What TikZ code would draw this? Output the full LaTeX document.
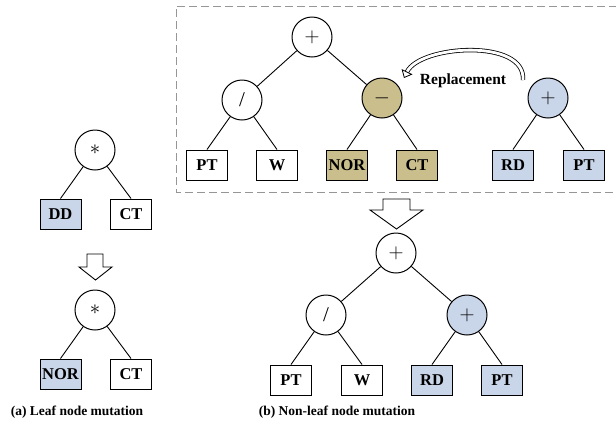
\documentclass[tikz,border=0pt]{standalone}
\usepackage{fontspec}
\setmainfont{Liberation Serif}
\usetikzlibrary{arrows.meta}
\definecolor{mutblue}{RGB}{201,213,232}
\definecolor{subolive}{RGB}{201,190,140}
\definecolor{boxgray}{RGB}{150,150,150}
\begin{document}
\begin{tikzpicture}[x=1pt,y=-1pt,
  op/.style={circle,draw,line width=1pt,minimum size=40pt,inner sep=0pt,font=\fontsize{21}{21}\selectfont},
  term/.style={draw,line width=1pt,minimum width=41pt,minimum height=30pt,inner sep=0pt,font=\fontsize{16.5}{16.5}\selectfont\bfseries},
  edge/.style={line width=.9pt},
  bigarrow/.style={draw,line width=.9pt,fill=white},
  caption/.style={font=\fontsize{13.5}{13.5}\selectfont\bfseries}]
\useasboundingbox (0,0) rectangle (616,432);
% (a) leaf node mutation
\node[op] (la) at (95,150) {$*$};
\node[term,fill=mutblue] (ldd) at (60.5,214) {DD};
\node[term] (lct) at (131,214) {CT};
\draw[edge] (la) -- (ldd.north);
\draw[edge] (la) -- (lct.north);
\draw[bigarrow] (87,254) -- (103,254) -- (103,267) -- (112,267) -- (95.5,280) -- (79,267) -- (87,267) -- cycle;
\node[op] (lb) at (95,310) {$*$};
\node[term,fill=mutblue] (lnor) at (60.5,374) {NOR};
\node[term] (lct2) at (131,374) {CT};
\draw[edge] (lb) -- (lnor.north);
\draw[edge] (lb) -- (lct2.north);
\node[caption] (capa) at (77,412) {(a) Leaf node mutation};
% (b) non-leaf node mutation
\draw[boxgray,line width=.9pt,dash pattern=on 8pt off 4pt] (617,6) -- (176,6) -- (176,192) -- (617,192);
\node[op] (top) at (312,37) {$+$};
\node[op] (div) at (242,100) {/};
\node[op,fill=subolive] (sub) at (382,98) {$-$};
\node[term] (pt1) at (207,165) {PT};
\node[term] (w1) at (277,165) {W};
\node[term,fill=subolive] (nor) at (347,165) {NOR};
\node[term,fill=subolive] (ct) at (417,165) {CT};
\draw[edge] (top) -- (div);
\draw[edge] (top) -- (sub);
\draw[edge] (div) -- (pt1.north);
\draw[edge] (div) -- (w1.north);
\draw[edge] (sub) -- (nor.north);
\draw[edge] (sub) -- (ct.north);
\node[op,fill=mutblue] (new) at (548,98) {$+$};
\node[term,fill=mutblue] (rd) at (513,165) {RD};
\node[term,fill=mutblue] (pt2) at (584,165) {PT};
\draw[edge] (new) -- (rd.north);
\draw[edge] (new) -- (pt2.north);
\coordinate (rfrom) at (523,80);
\coordinate (rto) at (404,78);
\draw[line width=.8pt,double distance=2.8pt,-{Triangle[open,length=7pt,width=12pt,fill=white]}] (rfrom) .. controls (526,38) and (420,45) .. (rto);
\node[font=\fontsize{15.5}{15.5}\selectfont\bfseries] (rep) at (463,81) {Replacement};
\draw[bigarrow] (383,199) -- (410,199) -- (410,210) -- (423,210) -- (396.5,229) -- (370,210) -- (383,210) -- cycle;
\node[op] (top2) at (396,253) {$+$};
\node[op] (div2) at (326,315) {/};
\node[op,fill=mutblue] (new2) at (467,315) {$+$};
\node[term] (pt3) at (291,380) {PT};
\node[term] (w2) at (362,380) {W};
\node[term,fill=mutblue] (rd2) at (432,380) {RD};
\node[term,fill=mutblue] (pt4) at (502,380) {PT};
\draw[edge] (top2) -- (div2);
\draw[edge] (top2) -- (new2);
\draw[edge] (div2) -- (pt3.north);
\draw[edge] (div2) -- (w2.north);
\draw[edge] (new2) -- (rd2.north);
\draw[edge] (new2) -- (pt4.north);
\node[caption] (capb) at (337,412) {(b) Non-leaf node mutation};
\end{tikzpicture}
\end{document}
